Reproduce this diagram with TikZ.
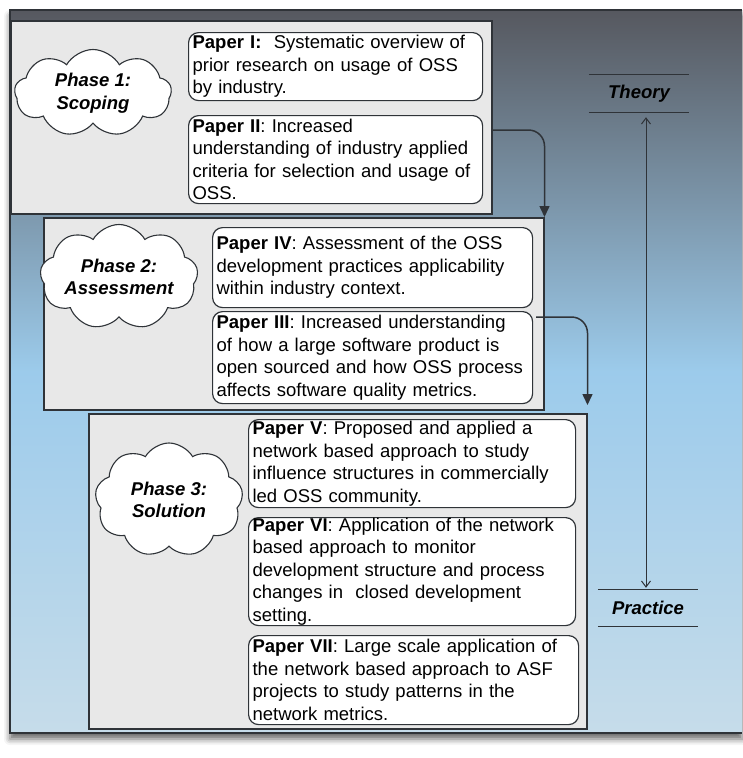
\documentclass[tikz,border=0pt]{standalone}
\usepackage{fontspec}
\setmainfont{Liberation Sans}
\usetikzlibrary{shapes.symbols,arrows.meta,shadows.blur}
\definecolor{bgtop}{HTML}{56585F}
\definecolor{bgmid}{HTML}{9CCBEB}
\definecolor{bgbot}{HTML}{C6DCEA}
\definecolor{panel}{HTML}{E8E8E8}
\definecolor{edge}{HTML}{2F3338}
\tikzset{
  phasebox/.style={draw=edge, fill=panel, line width=1.5pt, anchor=north west, inner sep=0pt},
  paper/.style={draw=edge, fill=white, line width=1.2pt, rounded corners=10pt, anchor=north west,
    align=left, inner xsep=4pt, inner ysep=0pt, font=\fontsize{18.5}{22.5}\selectfont},
  phasecloud/.style={cloud, draw=edge, fill=white, line width=1.1pt, cloud puffs=9, cloud puff arc=120,
    cloud ignores aspect, align=center, inner sep=0pt, font=\fontsize{18.5}{22.5}\selectfont\bfseries\itshape},
  level/.style={minimum width=100pt, minimum height=37pt, inner sep=0pt,
    font=\fontsize{18.5}{22.5}\selectfont\bfseries\itshape},
  rule/.style={draw=edge, line width=1.2pt},
  flow/.style={draw=edge, line width=1.5pt, rounded corners=16pt, -{Triangle[width=10pt,length=11pt]}},
  span/.style={draw=edge, line width=1pt, {Straight Barb[length=6pt,width=9pt]}-{Straight Barb[length=6pt,width=9pt]}}
}
\begin{document}
\begin{tikzpicture}[x=1pt, y=-1pt]
\useasboundingbox (0,0) rectangle (742,758);

\fill[top color=bgtop, bottom color=bgbot, middle color=bgmid,
  blur shadow={shadow xshift=0pt, shadow yshift=-6pt, shadow blur radius=6pt, shadow opacity=60}]
  (10,10) rectangle (742,733);
\draw[rule, line width=1.5pt] (742,10) -- (10,10) -- (10,733) -- (742,733);

\node[phasebox, minimum width=481pt, minimum height=193pt] (ph1) at (10,20) {};
\node[phasebox, minimum width=500pt, minimum height=192pt] (ph2) at (43,217) {};
\node[phasebox, minimum width=498pt, minimum height=315pt] (ph3) at (88,413) {};

\node[phasecloud, minimum width=157pt, minimum height=87pt] (c1) at (93,93) {Phase 1:\\Scoping};
\node[phasecloud, minimum width=158pt, minimum height=105pt] (c2) at (119,277) {Phase 2:\\Assessment};
\node[phasecloud, minimum width=148pt, minimum height=114pt] (c3) at (169,500) {Phase 3:\\Solution};

\node[paper, text width=286pt, minimum height=68pt] (p1) at (188,32)
  {\textbf{Paper I:}\ \ Systematic overview of\\prior research on usage of OSS\\by industry.};
\node[paper, text width=286pt, minimum height=88pt] (p2) at (188,115)
  {\textbf{Paper II}: Increased\\understanding of industry applied\\criteria for selection and usage of\\OSS.};
\node[paper, text width=312pt, minimum height=80pt] (p4) at (212,227)
  {\textbf{Paper IV}: Assessment of the OSS\\development practices applicability\\within industry context.};
\node[paper, text width=312pt, minimum height=92pt] (p3) at (212,311)
  {\textbf{Paper III}: Increased understanding\\of how a large software product is\\open sourced and how OSS process\\affects software quality metrics.};
\node[paper, text width=319pt, minimum height=88pt] (p5) at (248,419)
  {\textbf{Paper V}: Proposed and applied a\\network based approach to study\\influence structures in commercially\\led OSS community.};
\node[paper, text width=319pt, minimum height=108pt] (p6) at (248,517)
  {\textbf{Paper VI}: Application of the network\\based approach to monitor\\development structure and process\\changes in\ \ closed development\\setting.};
\node[paper, text width=322pt, minimum height=89pt] (p7) at (248,635)
  {\textbf{Paper VII}: Large scale application of\\the network based approach to ASF\\projects to study patterns in the\\network metrics.};

\coordinate (a1) at (493,130);
\coordinate (a2) at (536,317);
\draw[flow] (a1) -| (ph2.north east);
\draw[flow] (a2) -| ([yshift=8pt]ph3.north east);

\node[level] (theory) at (639,93.5) {Theory};
\draw[rule] (theory.north west) -- (theory.north east) (theory.south west) -- (theory.south east);
\node[level, minimum height=36pt] (practice) at (648,608) {Practice};
\draw[rule] (practice.north west) -- (practice.north east) (practice.south west) -- (practice.south east);
\draw[span] ([xshift=7pt,yshift=-5pt]theory.south) -- ([xshift=-2pt,yshift=2pt]practice.north);

\end{tikzpicture}
\end{document}
